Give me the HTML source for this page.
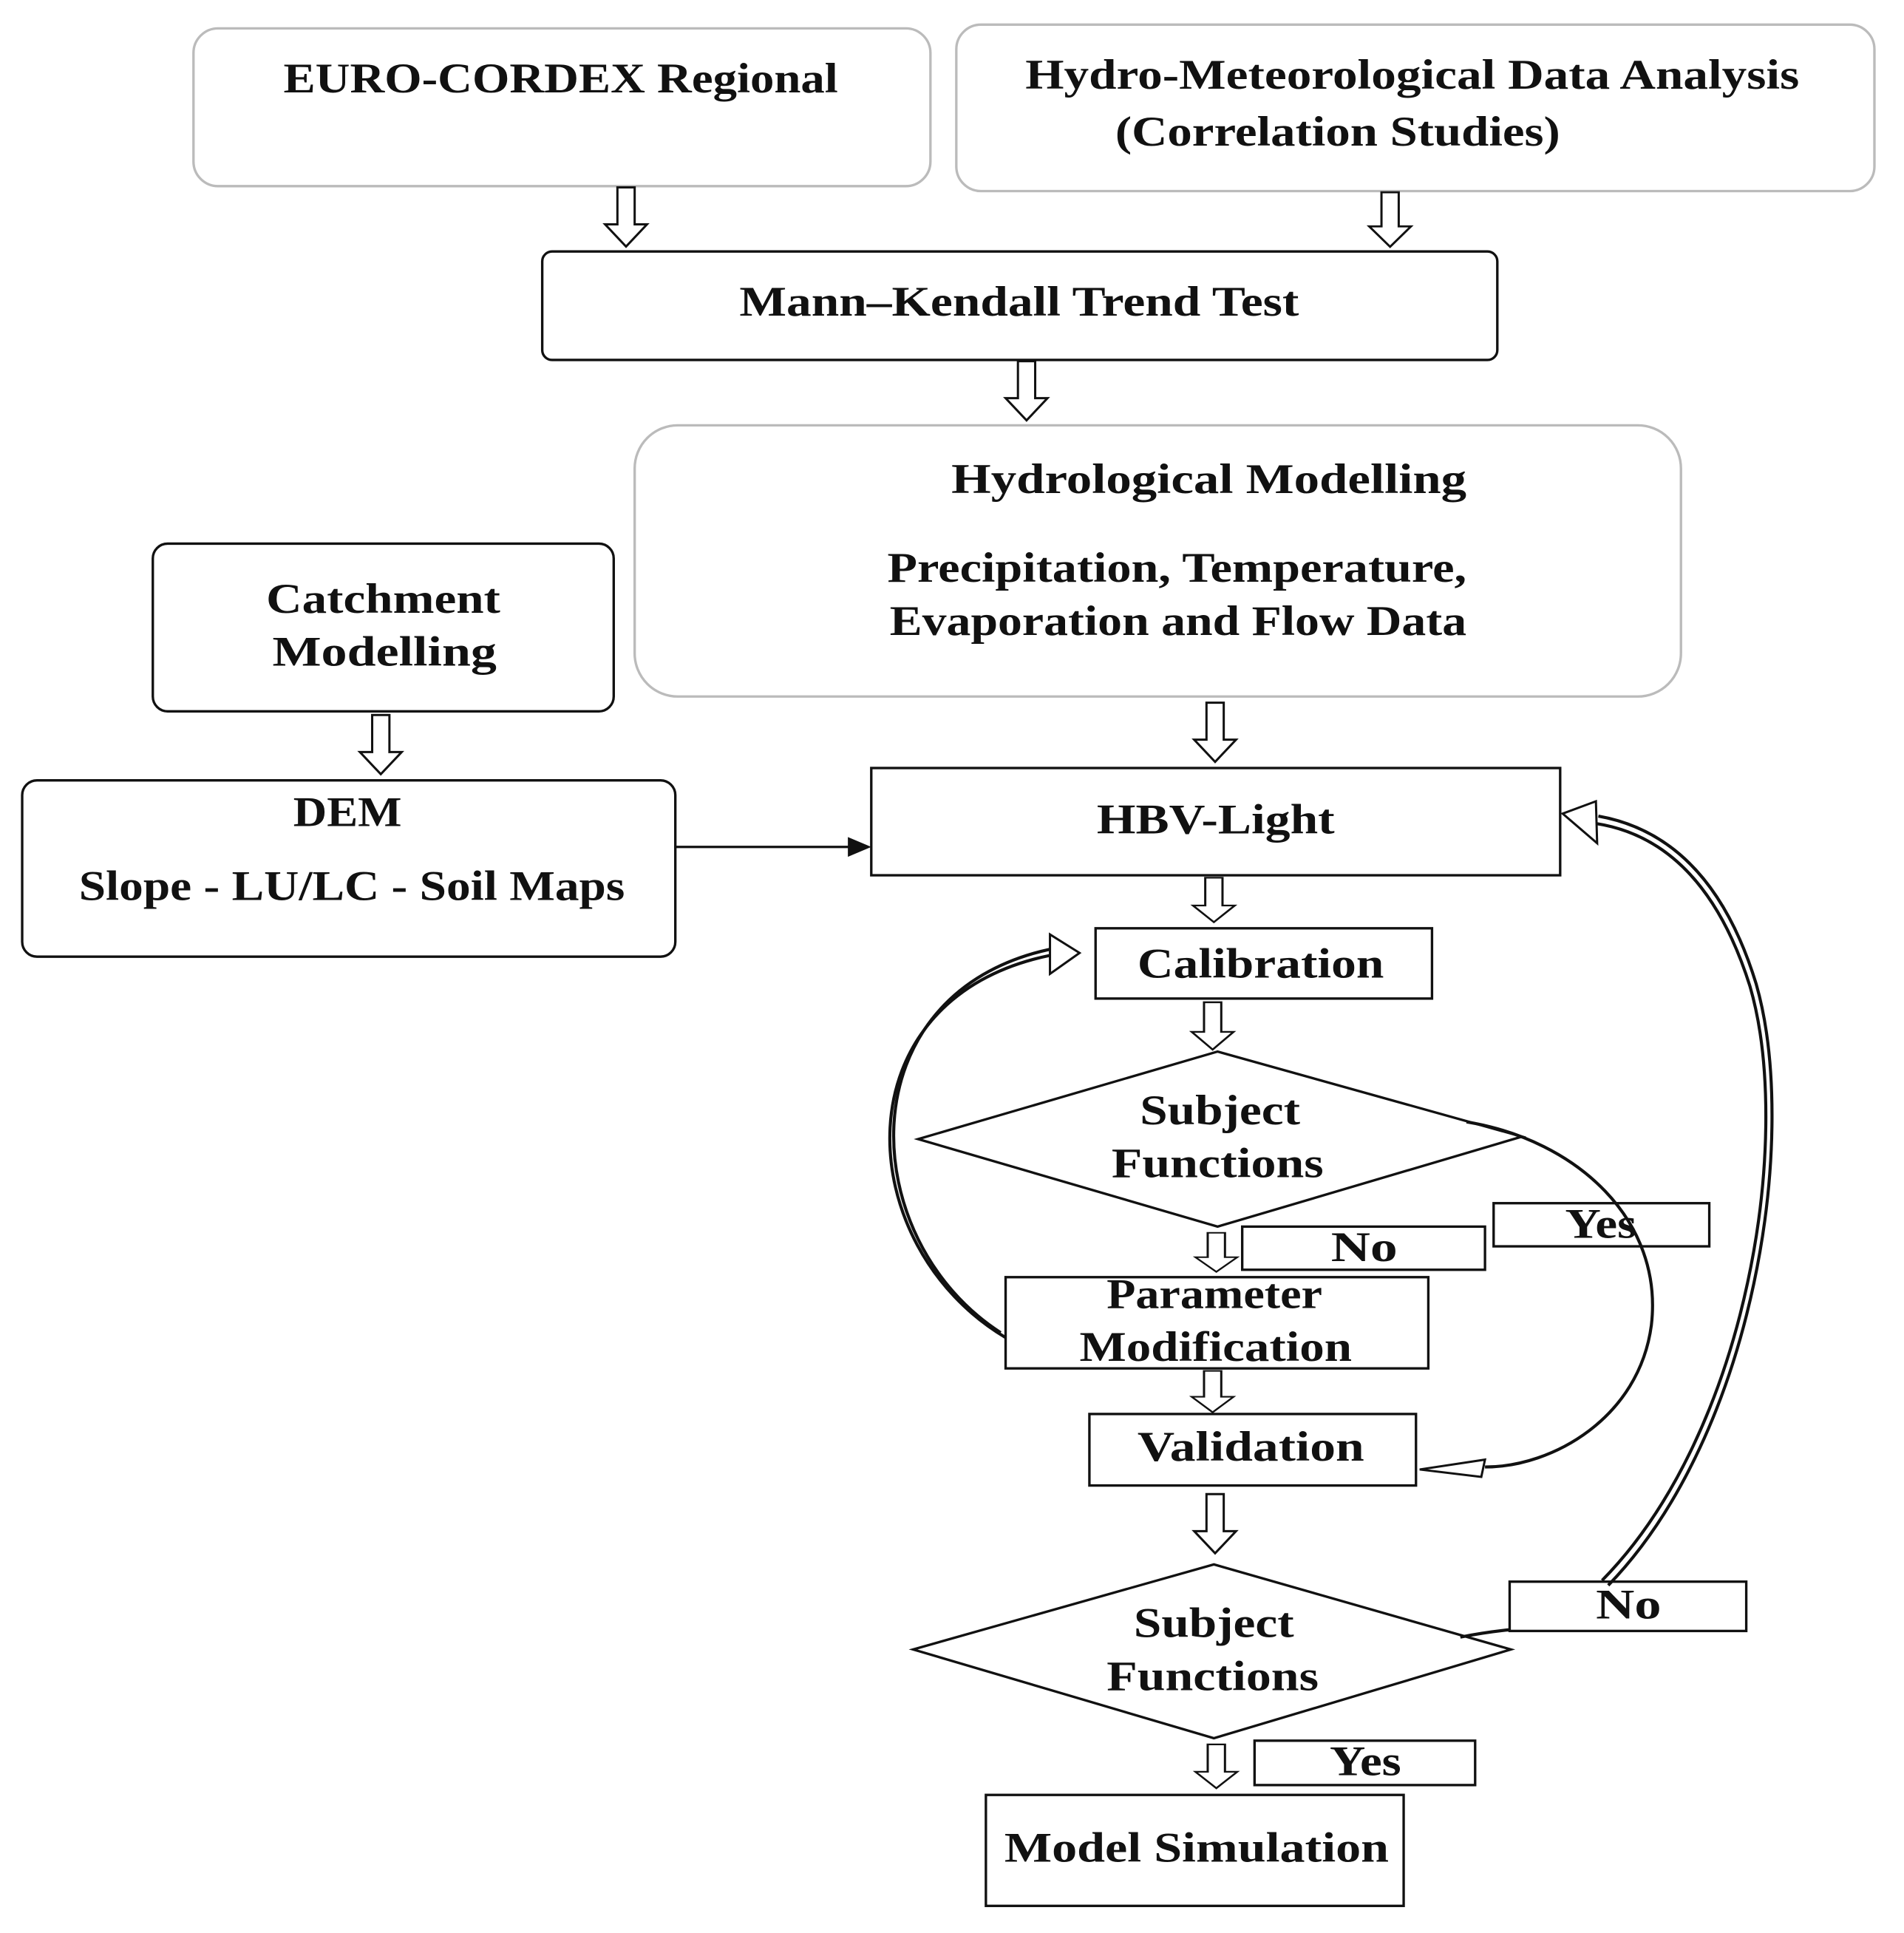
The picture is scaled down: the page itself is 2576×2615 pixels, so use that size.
<!DOCTYPE html>
<html><head><meta charset="utf-8"><style>
html,body{margin:0;padding:0;background:#fff}
svg{display:block}
text{font-family:"Liberation Serif",serif;font-weight:bold;font-size:34px;fill:#111}
.g{fill:#fff;stroke:#bbb;stroke-width:2}
.b{fill:#fff;stroke:#111;stroke-width:2}
.ar{fill:#fff;stroke:#111;stroke-width:1.8}
.c{fill:none;stroke:#111;stroke-width:2.5}
</style></head><body>
<svg width="2576" height="2615" viewBox="0 0 1545 1568" preserveAspectRatio="none" xmlns="http://www.w3.org/2000/svg">
<defs>
<g id="ha"><polygon class="ar" points="-7,0 7,0 7,30 17,30 0,48 -17,30 -7,30"/></g>
</defs>
<rect class="g" x="157" y="23" width="598" height="128" rx="20"/>
<text x="230" y="75" textLength="450" lengthAdjust="spacingAndGlyphs">EURO-CORDEX Regional</text>
<rect class="g" x="776" y="20" width="745" height="135" rx="20"/>
<text x="832" y="72" textLength="628" lengthAdjust="spacingAndGlyphs">Hydro-Meteorological Data Analysis</text>
<text x="905" y="118" textLength="361" lengthAdjust="spacingAndGlyphs">(Correlation Studies)</text>
<use href="#ha" transform="translate(508,152)"/>
<use href="#ha" transform="translate(1128,156) scale(1,0.92)"/>
<rect class="b" x="440" y="204" width="775" height="88" rx="8"/>
<text x="600" y="256" textLength="454" lengthAdjust="spacingAndGlyphs">Mann–Kendall Trend Test</text>
<use href="#ha" transform="translate(833,293)"/>
<rect class="g" x="515" y="345" width="849" height="220" rx="35"/>
<text x="772" y="400" textLength="418" lengthAdjust="spacingAndGlyphs">Hydrological Modelling</text>
<text x="720" y="472" textLength="470" lengthAdjust="spacingAndGlyphs">Precipitation, Temperature,</text>
<text x="722" y="515" textLength="468" lengthAdjust="spacingAndGlyphs">Evaporation and Flow Data</text>
<rect class="b" x="124" y="441" width="374" height="136" rx="12"/>
<text x="216" y="497" textLength="190" lengthAdjust="spacingAndGlyphs">Catchment</text>
<text x="221" y="540" textLength="182" lengthAdjust="spacingAndGlyphs">Modelling</text>
<use href="#ha" transform="translate(309,580)"/>
<rect class="b" x="18" y="633" width="530" height="143" rx="12"/>
<text x="238" y="670" textLength="88" lengthAdjust="spacingAndGlyphs">DEM</text>
<text x="64" y="730" textLength="443" lengthAdjust="spacingAndGlyphs">Slope - LU/LC - Soil Maps</text>
<line x1="548" y1="687" x2="690" y2="687" stroke="#111" stroke-width="2"/>
<polygon points="707,687 688,679 688,695" fill="#111"/>
<use href="#ha" transform="translate(986,570)"/>
<rect class="b" x="707" y="623" width="559" height="87"/>
<text x="890" y="676" textLength="193" lengthAdjust="spacingAndGlyphs">HBV-Light</text>
<use href="#ha" transform="translate(985,712) scale(1,0.75)"/>
<rect class="b" x="889" y="753" width="273" height="57"/>
<text x="923" y="793" textLength="200" lengthAdjust="spacingAndGlyphs">Calibration</text>
<use href="#ha" transform="translate(984,813) scale(1,0.8)"/>
<polygon class="b" points="988,853 1235,922 988,995 745,924"/>
<text x="925" y="912" textLength="130" lengthAdjust="spacingAndGlyphs">Subject</text>
<text x="902" y="955" textLength="172" lengthAdjust="spacingAndGlyphs">Functions</text>
<use href="#ha" transform="translate(987,1000) scale(1,0.66)"/>
<rect class="b" x="1008" y="995" width="197" height="35"/>
<text x="1080" y="1023" textLength="54" lengthAdjust="spacingAndGlyphs">No</text>
<rect class="b" x="1212" y="976" width="175" height="35"/>
<text x="1270" y="1004" textLength="58" lengthAdjust="spacingAndGlyphs">Yes</text>
<rect class="b" x="816" y="1036" width="343" height="74"/>
<text x="898" y="1061" textLength="175" lengthAdjust="spacingAndGlyphs">Parameter</text>
<text x="876" y="1104" textLength="221" lengthAdjust="spacingAndGlyphs">Modification</text>
<use href="#ha" transform="translate(984,1112) scale(1,0.7)"/>
<rect class="b" x="884" y="1147" width="265" height="58"/>
<text x="923" y="1185" textLength="184" lengthAdjust="spacingAndGlyphs">Validation</text>
<use href="#ha" transform="translate(986,1212)"/>
<polygon class="b" points="985,1269 1226,1338 985,1410 741,1338"/>
<text x="920" y="1328" textLength="130" lengthAdjust="spacingAndGlyphs">Subject</text>
<text x="898" y="1371" textLength="172" lengthAdjust="spacingAndGlyphs">Functions</text>
<rect class="b" x="1225" y="1283" width="192" height="40"/>
<text x="1295" y="1313" textLength="53" lengthAdjust="spacingAndGlyphs">No</text>
<rect class="b" x="1018" y="1412" width="179" height="36"/>
<text x="1079" y="1440" textLength="58" lengthAdjust="spacingAndGlyphs">Yes</text>
<use href="#ha" transform="translate(987,1415) scale(1,0.74)"/>
<rect class="b" x="800" y="1456" width="339" height="90"/>
<text x="815" y="1510" textLength="312" lengthAdjust="spacingAndGlyphs">Model Simulation</text>
<path class="c" d="M816,1085 C690,1010 680,810 852,775"/>
<path class="c" d="M812,1081 C694,1005 686,806 852,770" stroke-width="1.5"/>
<polygon class="ar" points="876,773 852,758 852,790"/>
<path class="c" d="M1190,910 C1280,925 1350,990 1340,1075 C1330,1150 1260,1190 1205,1190"/>
<polygon class="ar" points="1152,1192 1205,1184 1202,1198"/>
<path class="c" d="M1185,1328 C1200,1325 1215,1323 1225,1322"/>
<path class="c" d="M1300,1282 C1420,1160 1455,920 1420,800 C1390,705 1340,675 1295,668"/>
<path class="c" stroke-width="1.5" d="M1305,1286 C1425,1162 1460,920 1425,798 C1395,700 1342,670 1297,662"/>
<polygon class="ar" points="1268,660 1295,650 1296,684"/>
</svg>
</body></html>
